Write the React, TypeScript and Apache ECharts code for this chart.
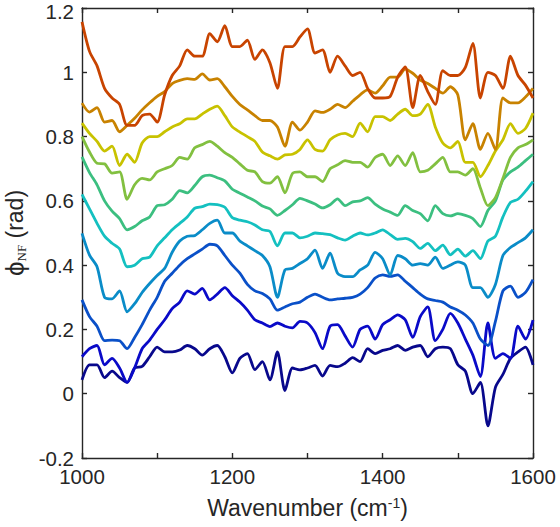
import React, { useEffect, useRef } from "react";
import * as echarts from "echarts";

// Wavenumber grid (cm^-1), 10 cm^-1 spacing from 1000 to 1600
const wavenumbers: number[] = [];
for (let w = 1000; w <= 1600; w += 10) wavenumbers.push(w);

const xTickLabels = ["1000", "1200", "1400", "1600"];
const yTickLabels = ["-0.2", "0", "0.2", "0.4", "0.6", "0.8", "1", "1.2"];
const yTopLabel = "1.2";

// Phase curves (rad), top (red) to bottom (navy)
const phiRed = [
  1.157, 1.065, 1.02, 0.95, 0.92, 0.9, 0.835, 0.835, 0.865, 0.87,
  0.845, 0.93, 0.99, 1.02, 1.07, 1.05, 1.05, 1.12, 1.095, 1.145,
  1.08, 1.08, 1.1, 1.04, 1.07, 1.03, 0.95, 1.08, 1.08, 1.11,
  1.135, 1.06, 1.07, 1.0, 1.05, 1.02, 0.99, 1.0, 0.95, 0.92,
  0.92, 0.925, 0.985, 1.017, 0.89, 0.99, 0.94, 0.9, 1.005, 0.99,
  0.99, 1.015, 1.09, 0.92, 1.0, 0.99, 0.95, 1.05, 0.99, 0.96,
  0.92,
];
const phiOrange = [
  0.904, 0.876, 0.89, 0.845, 0.85, 0.815, 0.835, 0.857, 0.883, 0.905,
  0.925, 0.94, 0.965, 0.975, 0.98, 0.978, 0.995, 0.976, 0.98, 0.955,
  0.925, 0.9, 0.883, 0.865, 0.85, 0.85, 0.83, 0.77, 0.845, 0.82,
  0.845, 0.88, 0.875, 0.885, 0.9, 0.89, 0.91, 0.93, 0.945, 0.935,
  0.958, 0.985, 0.985, 1.01, 0.997, 0.976, 0.965, 0.95, 0.935, 0.955,
  0.93, 0.79, 0.84, 0.76, 0.81, 0.76, 0.92, 0.905, 0.905, 0.923,
  0.95,
];
const phiYellow = [
  0.842, 0.81, 0.785, 0.755, 0.77, 0.71, 0.745, 0.72, 0.78, 0.8,
  0.8, 0.815, 0.83, 0.84, 0.855, 0.855, 0.87, 0.885, 0.895, 0.865,
  0.83, 0.814, 0.8, 0.785, 0.752, 0.74, 0.73, 0.743, 0.745, 0.76,
  0.79, 0.76, 0.755, 0.79, 0.805, 0.81, 0.8, 0.842, 0.815, 0.862,
  0.862, 0.85, 0.87, 0.885, 0.865, 0.87, 0.9, 0.83, 0.78, 0.765,
  0.785, 0.72, 0.72, 0.675, 0.71, 0.755, 0.79, 0.84, 0.81, 0.825,
  0.873,
];
const phiLime = [
  0.8, 0.752, 0.717, 0.715, 0.686, 0.69, 0.605, 0.65, 0.67, 0.665,
  0.69, 0.7, 0.71, 0.735, 0.73, 0.765, 0.775, 0.785, 0.77, 0.75,
  0.735, 0.715, 0.695, 0.69, 0.66, 0.655, 0.675, 0.625, 0.685, 0.69,
  0.675, 0.675, 0.66, 0.7, 0.712, 0.725, 0.72, 0.72, 0.705, 0.735,
  0.745, 0.71, 0.74, 0.71, 0.75, 0.69, 0.695, 0.715, 0.735, 0.69,
  0.69, 0.68, 0.7, 0.64, 0.585, 0.61, 0.67, 0.735, 0.765, 0.775,
  0.79,
];
const phiSeafoam = [
  0.737, 0.688, 0.65, 0.6, 0.568, 0.545, 0.51, 0.52, 0.538, 0.55,
  0.585, 0.588, 0.605, 0.632, 0.625, 0.648, 0.675, 0.68, 0.672, 0.662,
  0.636, 0.624, 0.612, 0.6, 0.584, 0.575, 0.555, 0.57, 0.588, 0.608,
  0.6, 0.59, 0.578, 0.588, 0.606, 0.585, 0.597, 0.6, 0.61, 0.59,
  0.575, 0.565, 0.555, 0.585, 0.57, 0.56, 0.538, 0.585, 0.56, 0.553,
  0.56, 0.555, 0.545, 0.52, 0.57, 0.6, 0.665, 0.69, 0.705, 0.725,
  0.745,
];
const phiCyan = [
  0.62, 0.575, 0.53, 0.49, 0.468, 0.45, 0.395, 0.4, 0.42, 0.425,
  0.46, 0.485, 0.51, 0.53, 0.55, 0.577, 0.582, 0.59, 0.588, 0.58,
  0.548, 0.54, 0.535, 0.525, 0.51, 0.505, 0.46, 0.5, 0.5, 0.485,
  0.49, 0.5, 0.498, 0.495, 0.485, 0.478, 0.49, 0.5, 0.494, 0.5,
  0.51, 0.495, 0.48, 0.483, 0.473, 0.452, 0.468, 0.445, 0.462, 0.432,
  0.45, 0.428, 0.445, 0.42, 0.475, 0.49, 0.55, 0.595, 0.605, 0.63,
  0.66,
];
const phiSky = [
  0.499, 0.431, 0.395, 0.3, 0.295, 0.32, 0.255, 0.28, 0.315, 0.343,
  0.368, 0.39, 0.44, 0.475, 0.49, 0.492, 0.51, 0.53, 0.54, 0.5,
  0.5, 0.475, 0.46, 0.445, 0.43, 0.395, 0.3, 0.385, 0.39, 0.405,
  0.42, 0.447, 0.39, 0.437, 0.375, 0.364, 0.364, 0.385, 0.4, 0.44,
  0.42, 0.37, 0.43, 0.42, 0.4, 0.405, 0.4, 0.425, 0.39, 0.4,
  0.41, 0.4, 0.33, 0.33, 0.3, 0.34, 0.43, 0.455, 0.47, 0.485,
  0.51,
];
const phiBlue = [
  0.292, 0.24, 0.21, 0.165, 0.167, 0.165, 0.14, 0.175, 0.215, 0.26,
  0.3, 0.35, 0.375, 0.4, 0.42, 0.435, 0.45, 0.465, 0.46, 0.43,
  0.4, 0.375, 0.34, 0.32, 0.312, 0.295, 0.26, 0.27, 0.28, 0.285,
  0.3, 0.31, 0.3, 0.292, 0.295, 0.297, 0.3, 0.31, 0.33, 0.36,
  0.37, 0.365, 0.37, 0.35, 0.33, 0.31, 0.295, 0.29, 0.285, 0.27,
  0.26, 0.245, 0.22, 0.17, 0.15, 0.225, 0.32, 0.335, 0.3, 0.315,
  0.355,
];
const phiRoyal = [
  0.115, 0.14, 0.15, 0.09, 0.11, 0.08, 0.035, 0.08, 0.14, 0.167,
  0.2, 0.23, 0.265, 0.285, 0.32, 0.31, 0.328, 0.292, 0.31, 0.33,
  0.305, 0.285, 0.26, 0.23, 0.22, 0.209, 0.22, 0.21, 0.205, 0.225,
  0.22, 0.19, 0.14, 0.21, 0.215, 0.18, 0.145, 0.2, 0.21, 0.17,
  0.215, 0.23, 0.245, 0.23, 0.175, 0.24, 0.27, 0.165, 0.2, 0.25,
  0.22, 0.17, 0.12, 0.053, 0.22, 0.11, 0.125, 0.11, 0.21, 0.17,
  0.229,
];
const phiNavy = [
  0.043, 0.09, 0.09, 0.05, 0.07, 0.05, 0.035, 0.08, 0.085, 0.115,
  0.145, 0.13, 0.13, 0.136, 0.15, 0.14, 0.12, 0.14, 0.15, 0.115,
  0.065, 0.11, 0.125, 0.075, 0.1, 0.043, 0.13, 0.01, 0.08, 0.074,
  0.08, 0.088, 0.055, 0.088, 0.084, 0.095, 0.112, 0.1, 0.14, 0.125,
  0.135, 0.14, 0.15, 0.135, 0.145, 0.15, 0.115, 0.14, 0.145, 0.14,
  0.09, 0.07, 0.0, 0.035, -0.1, 0.02, 0.06, 0.11, 0.13, 0.145,
  0.09,
];

const seriesList = [
  { name: "s1", values: phiNavy, color: "#08088c" },
  { name: "s2", values: phiRoyal, color: "#0a0ac8" },
  { name: "s3", values: phiBlue, color: "#0a50c8" },
  { name: "s4", values: phiSky, color: "#0a8cc8" },
  { name: "s5", values: phiCyan, color: "#14c0c0" },
  { name: "s6", values: phiSeafoam, color: "#3cbf80" },
  { name: "s7", values: phiLime, color: "#82c040" },
  { name: "s8", values: phiYellow, color: "#c8c200" },
  { name: "s9", values: phiOrange, color: "#c88200" },
  { name: "s10", values: phiRed, color: "#c84400" },
];

const FONT = "'Liberation Sans', Arial, Helvetica, sans-serif";
const SERIF = "'Liberation Serif', 'Times New Roman', serif";
const AXIS_COLOR = "#262626";

export default function App() {
  const ref = useRef<HTMLDivElement>(null);

  useEffect(() => {
    if (!ref.current) return;
    const chart = echarts.init(ref.current, null, { renderer: "svg" });
    const lineStyle = { color: AXIS_COLOR, width: 1.4 };
    const fmtX = (v: number) => {
      const s = String(Math.round(v));
      return xTickLabels.indexOf(s) >= 0 ? s : "";
    };
    const fmtY = (v: number) => {
      const s = String(parseFloat(v.toFixed(1)));
      if (s === yTopLabel) return ""; // drawn separately so it stays inside the page
      return yTickLabels.indexOf(s) >= 0 ? s : "";
    };
    chart.setOption({
      animation: false,
      backgroundColor: "#ffffff",
      grid: {
        left: 82,
        right: 27,
        top: 8,
        bottom: 69,
        containLabel: false,
        outerBoundsMode: "none",
      },
      graphic: [
        {
          type: "text",
          x: 74,
          y: 11,
          style: {
            text: yTopLabel,
            align: "right",
            verticalAlign: "middle",
            fill: AXIS_COLOR,
            fontSize: 20.5,
            fontFamily: FONT,
          },
        },
      ],
      xAxis: [
        {
          type: "value",
          min: 1000,
          max: 1600,
          interval: 100,
          position: "bottom",
          axisLine: { show: true, onZero: false, lineStyle },
          axisTick: { show: true, inside: true, length: 5, lineStyle },
          axisLabel: { formatter: fmtX, color: AXIS_COLOR, fontSize: 20.5, fontFamily: FONT, margin: 8 },
          splitLine: { show: false },
          name: "Wavenumber (cm{s|-1})",
          nameLocation: "middle",
          nameGap: 38,
          nameTextStyle: {
            color: AXIS_COLOR,
            fontSize: 23,
            fontFamily: FONT,
            rich: { s: { fontSize: 14, fontFamily: FONT, color: AXIS_COLOR, verticalAlign: "top" } },
          },
        },
        {
          type: "value",
          min: 1000,
          max: 1600,
          interval: 100,
          position: "top",
          axisLine: { show: true, onZero: false, lineStyle },
          axisTick: { show: true, inside: true, length: 5, lineStyle },
          axisLabel: { show: false },
          splitLine: { show: false },
        },
      ],
      yAxis: [
        {
          type: "value",
          min: -0.2,
          max: 1.2,
          interval: 0.2,
          position: "left",
          axisLine: { show: true, onZero: false, lineStyle },
          axisTick: { show: true, inside: true, length: 5, lineStyle },
          axisLabel: {
            formatter: fmtY,
            color: AXIS_COLOR,
            fontSize: 20.5,
            fontFamily: FONT,
            margin: 8,
          },
          splitLine: { show: false },
          name: "{a|ϕ}{b|NF}{c| (rad)}",
          nameLocation: "middle",
          nameGap: 46,
          nameTextStyle: {
            color: AXIS_COLOR,
            fontFamily: FONT,
            rich: {
              a: { fontSize: 26, fontFamily: FONT, color: AXIS_COLOR },
              b: { fontSize: 13, fontFamily: SERIF, color: AXIS_COLOR, verticalAlign: "bottom" },
              c: { fontSize: 23, fontFamily: FONT, color: AXIS_COLOR },
            },
          },
        },
        {
          type: "value",
          min: -0.2,
          max: 1.2,
          interval: 0.2,
          position: "right",
          axisLine: { show: true, onZero: false, lineStyle },
          axisTick: { show: true, inside: true, length: 5, lineStyle },
          axisLabel: { show: false },
          splitLine: { show: false },
        },
      ],
      series: seriesList.map((s) => ({
        name: s.name,
        type: "line",
        xAxisIndex: 0,
        yAxisIndex: 0,
        data: wavenumbers.map((w, i) => [w, s.values[i]]),
        showSymbol: false,
        symbol: "none",
        smooth: 0.25,
        lineStyle: { color: s.color, width: 2.8 },
        itemStyle: { color: s.color },
        z: 2,
      })),
    });
    return () => chart.dispose();
  }, []);

  return (
    <div
      ref={ref}
      style={{ position: "fixed", left: 0, top: 0, width: 560, height: 527, background: "#fff" }}
    />
  );
}
